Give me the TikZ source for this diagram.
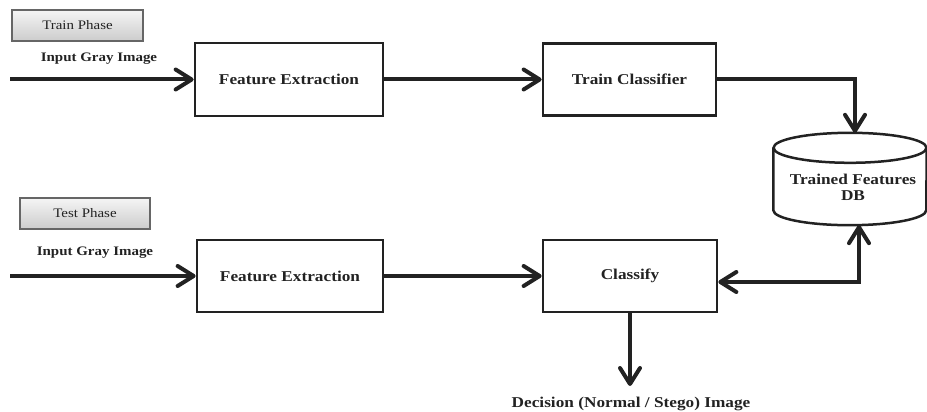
\documentclass[tikz,border=0pt]{standalone}
\usepackage{fontspec}
\setmainfont{Liberation Serif}[FakeStretch=1.15]
\usetikzlibrary{arrows.meta}
\definecolor{ink}{HTML}{222222}
\tikzset{
  blk/.style={draw=ink, line width=2.7pt, fill=white, inner sep=0pt, font=\fontsize{15}{16}\selectfont\bfseries, text=ink},
  phase/.style={draw=gray!80!black, line width=1.3pt, top color=gray!8, bottom color=gray!40, inner sep=0pt, font=\fontsize{13}{14}\selectfont, text=ink},
  lbl/.style={font=\fontsize{13}{14}\selectfont\bfseries, text=ink, inner sep=0pt},
  arr/.style={draw=ink, line width=4pt, -{Straight Barb[length=16pt, width=20pt, round]}},
  arrtwo/.style={draw=ink, line width=4pt, {Straight Barb[length=16pt, width=20pt, round]}-{Straight Barb[length=16pt, width=20pt, round]}},
}
\begin{document}
\begin{tikzpicture}[x=1pt, y=-1pt]
\useasboundingbox (0,0) rectangle (927,412);
% phase labels
\node[phase, minimum width=131pt, minimum height=31pt] (train) at (77.5,25.5) {Train Phase};
\node[phase, minimum width=130pt, minimum height=31pt] (test) at (85,213.5) {Test Phase};
\node[lbl] (in1lbl) at (99,59) {Input Gray Image};
\node[lbl] (in2lbl) at (95,253) {Input Gray Image};
% blocks
\node[blk, minimum width=188pt, minimum height=73pt] (fe1) at (289,79.5) {Feature Extraction};
\node[blk, minimum width=173pt, minimum height=72pt] (tc) at (629.5,79.5) {Train Classifier};
\node[blk, minimum width=186pt, minimum height=72pt] (fe2) at (290,276) {Feature Extraction};
\node[blk, minimum width=174pt, minimum height=72pt] (cls) at (630,276) {Classify};
% database
\node[minimum width=153pt, minimum height=92pt, inner sep=0pt] (db) at (850,179) {};
\draw[ink, line width=2.5pt, fill=white]
  ([yshift=-15pt]db.north west) -- ([yshift=15pt]db.south west)
  arc[start angle=180, end angle=360, x radius=76.5pt, y radius=15pt]
  -- ([yshift=-15pt]db.north east);
\draw[ink, line width=2.5pt] ([yshift=-15pt]db.north) ellipse[x radius=76.5pt, y radius=15pt];
\node[font=\fontsize{15}{16}\selectfont\bfseries, text=ink, align=center, inner sep=0pt] (dbtxt) at (853,187) {Trained Features\\DB};
% decision
\node[font=\fontsize{15}{16}\selectfont\bfseries, text=ink, inner sep=0pt] (dec) at (631,404) {Decision (Normal / Stego) Image};
% connectors
\coordinate (in1) at (10,79.5);
\coordinate (in2) at (10,276);
\coordinate (decend) at (630,386);
\draw[arr] (in1) -- (fe1.west);
\draw[arr] (fe1.east) -- (tc.west);
\draw[arr] (tc.east) -| ([xshift=5pt]db.north);
\draw[arr] (in2) -- (fe2.west);
\draw[arr] (fe2.east) -- (cls.west);
\draw[arrtwo] ([yshift=-6pt]cls.east) -| ([xshift=9pt]db.south);
\draw[arr] (cls.south) -- (decend);
\end{tikzpicture}
\end{document}
